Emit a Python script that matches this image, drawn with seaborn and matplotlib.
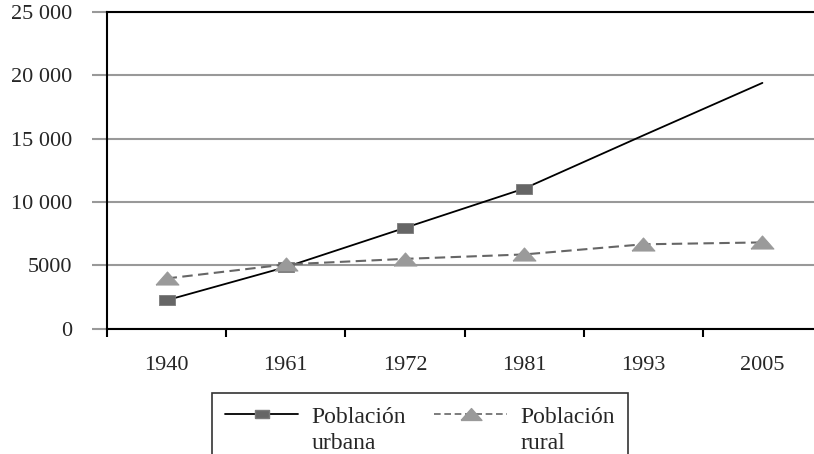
"""
Población urbana y rural, 1940-2005.
Line chart in the old spreadsheet style.
"""

import pandas as pd
import seaborn as sea
import matplotlib
matplotlib.use('Agg')
import matplotlib.pyplot as plt
from matplotlib import ticker as mticker
from matplotlib.lines import Line2D


########  parameter setup  ########

YEARS = ['1940', '1961', '1972', '1981', '1993', '2005']
URBANA = [2230, 4850, 7950, 11050, 15250, 19400]
RURAL = [3950, 5060, 5500, 5850, 6650, 6800]

YTICKS = [0, 5000, 10000, 15000, 20000, 25000]
YTICKLABELS = ['0', '5000', '10 000', '15 000', '20 000', '25 000']

LEGEND_TOP = ['Población', 'Población']
LEGEND_BOTTOM = ['urbana', 'rural']

GRID_GRAY = '#999999'
SQUARE_GRAY = '#666666'
TRIANGLE_GRAY = '#9a9a9a'
DASH_GRAY = '#666666'

# wide rectangle and wide triangle, as in the original
SQUARE = [(-1, -0.62), (1, -0.62), (1, 0.62), (-1, 0.62), (-1, -0.62)]
TRIANGLE = [(-1, -0.57), (1, -0.57), (0, 0.57), (-1, -0.57)]

W, H = 814, 454
DPI = 100

###################################


########  draw plot  ########

sea.set_style('white')
plt.rcParams['font.family'] = ['Liberation Serif', 'DejaVu Serif']

df = pd.DataFrame(dict(year=YEARS, urbana=URBANA, rural=RURAL))

fig = plt.figure(figsize=(W/DPI, H/DPI), dpi=DPI)
# the right edge of the plot area runs past the picture, as in the source
ax = fig.add_axes([107/W, 1-328.5/H, 715/W, 316.5/H])

sea.lineplot(data=df, x='year', y='urbana', ax=ax, sort=False,
    color='k', linewidth=1.3,
    marker=SQUARE, markersize=11, markevery=[0, 1, 2, 3],
    markerfacecolor=SQUARE_GRAY, markeredgecolor='#7a7a7a', markeredgewidth=0.6,
    zorder=3)
sea.lineplot(data=df, x='year', y='rural', ax=ax, sort=False,
    color=DASH_GRAY, linewidth=1.5, linestyle=(0, (5, 2.6)),
    marker=TRIANGLE, markersize=16.5,
    markerfacecolor=TRIANGLE_GRAY, markeredgecolor=TRIANGLE_GRAY,
    zorder=4)

# aesthetics
ax.set_xlim(-0.5, 5.5)
ax.set_ylim(0, 25000)
ax.set_yticks(YTICKS)
ax.set_yticklabels(YTICKLABELS)
ax.set_xlabel('')
ax.set_ylabel('')
ax.grid(True, axis='y', color=GRID_GRAY, linewidth=1.5)
ax.grid(False, axis='x')
ax.set_axisbelow(True)

ax.xaxis.set_minor_locator(mticker.FixedLocator([-0.5, 0.5, 1.5, 2.5, 3.5, 4.5]))
ax.tick_params(axis='x', which='major', length=0, pad=20, labelsize=16)
ax.tick_params(axis='x', which='minor', bottom=True, length=6, width=1.5,
               color='k', direction='out')
ax.tick_params(axis='y', which='major', left=True, length=11, width=1.5,
               color=GRID_GRAY, direction='out', pad=14, labelsize=16)

for side in ['left', 'bottom', 'top']:
    ax.spines[side].set_visible(True)
    ax.spines[side].set_color('k')
    ax.spines[side].set_linewidth(1.5)
ax.spines['right'].set_visible(False)

# legend: top row has the handles, second row finishes the labels
blank = Line2D([], [], linestyle='none', marker='none')
h_urb = Line2D([], [], color='k', linewidth=1.3, marker=SQUARE, markersize=10,
               markerfacecolor=SQUARE_GRAY, markeredgecolor='#7a7a7a')
h_rur = Line2D([], [], color=DASH_GRAY, linewidth=1.2, linestyle=(0, (4, 2.2)),
               marker=TRIANGLE, markersize=15,
               markerfacecolor=TRIANGLE_GRAY, markeredgecolor=TRIANGLE_GRAY)
leg = fig.legend([h_urb, blank, h_rur, blank],
    [LEGEND_TOP[0], LEGEND_BOTTOM[0], LEGEND_TOP[1], LEGEND_BOTTOM[1]],
    ncol=2, loc='upper left', bbox_to_anchor=(212/W, 1-393/H),
    fontsize=17, frameon=True, fancybox=False, borderaxespad=0,
    handlelength=3.1, handletextpad=0.55, columnspacing=1.2,
    labelspacing=0.22, borderpad=0.55)
leg.get_frame().set_edgecolor('k')
leg.get_frame().set_linewidth(1.2)

plt.savefig('out.png', dpi=DPI)
plt.close()

###################################
